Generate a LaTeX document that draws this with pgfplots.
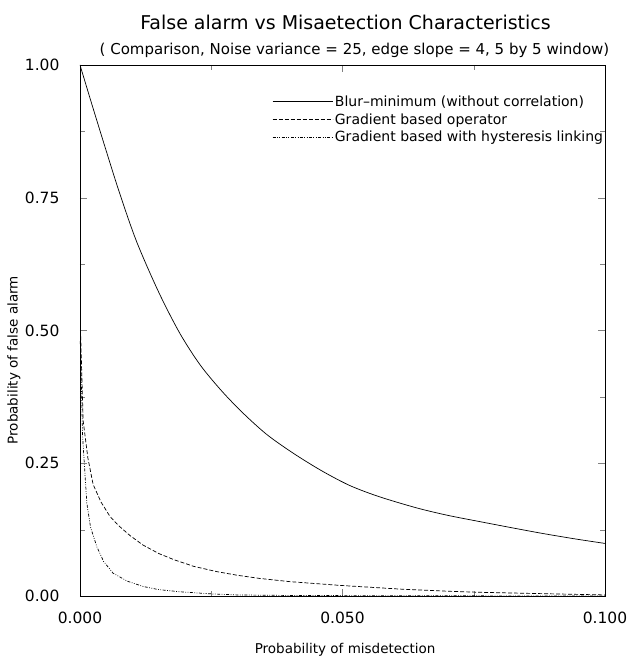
\documentclass[border=0pt]{standalone}
\usepackage{fontspec}
\setmainfont{DejaVu Sans}
\usepackage{pgfplots}
\pgfplotsset{compat=1.18}
\begin{document}
\begin{tikzpicture}
\useasboundingbox (-80pt,-61pt) rectangle (549pt,596pt);
\begin{axis}[
    at={(0,0)}, anchor=south west,
    width=525pt, height=531pt, scale only axis,
    xmin=0, xmax=0.1, ymin=0, ymax=1,
    xtick={0,0.05,0.1}, ytick={0,0.25,0.5,0.75,1},
    minor x tick num=1, minor y tick num=1,
    tick align=inside,
    major tick length=7pt, minor tick length=5pt,
    scaled ticks=false,
    xticklabel style={/pgf/number format/.cd,fixed,fixed zerofill,precision=3},
    yticklabel style={/pgf/number format/.cd,fixed,fixed zerofill,precision=2},
    /pgf/number format/assume math mode=true,
    ticklabel style={font=\fontsize{15.5}{17}\selectfont},
    xticklabel shift=12pt, yticklabel shift=17pt,
    xlabel={Probability of misdetection},
    ylabel={Probability of false alarm},
    label style={font=\fontsize{13.5}{15}\selectfont},
    xlabel style={at={(axis description cs:0.505,0)}, yshift=-54pt, anchor=center},
    ylabel style={at={(axis description cs:0,0.444)}, yshift=66pt, anchor=center},
    legend style={draw=none, fill=none, at={(0.36,0.95)}, anchor=north west,
      font=\fontsize{14}{16}\selectfont, row sep=1.5pt},
    legend cell align=left,
    legend image code/.code={\draw[#1] (0pt,0pt) -- (60pt,0pt);},
]
\addplot[black, line width=0.7pt, smooth] coordinates {
(0,1.0) (0.0022,0.928) (0.00444,0.856) (0.0075,0.760) (0.0108,0.667)
(0.015,0.572) (0.019,0.495) (0.0229,0.435) (0.027,0.386) (0.0311,0.344)
(0.0356,0.304) (0.0406,0.269) (0.046,0.236) (0.0514,0.208) (0.057,0.187)
(0.0641,0.166) (0.070,0.152) (0.0762,0.140) (0.082,0.129) (0.088,0.118)
(0.094,0.108) (0.1,0.099)};
\addlegendentry{Blur--minimum (without correlation)}
\addplot[black, line width=0.7pt, dash pattern=on 4pt off 2pt] coordinates {
(0.0001,0.50) (0.0006,0.33) (0.0015,0.26) (0.0025,0.21) (0.004,0.177)
(0.0057,0.150) (0.0073,0.133) (0.0095,0.114) (0.012,0.096) (0.015,0.080)
(0.018,0.068) (0.0216,0.056) (0.026,0.046) (0.030,0.039) (0.0343,0.033)
(0.040,0.027) (0.0495,0.020) (0.061,0.013) (0.070,0.009) (0.076,0.007)
(0.090,0.004) (0.1,0.002)};
\addlegendentry{Gradient based operator}
\addplot[black, line width=0.7pt, dash pattern=on 3pt off 1.5pt on 0.8pt off 1.5pt on 0.8pt off 1.5pt] coordinates {
(0.00005,0.48) (0.0005,0.30) (0.0013,0.175) (0.002,0.130) (0.0032,0.093)
(0.0045,0.065) (0.0063,0.043) (0.009,0.028) (0.012,0.018) (0.015,0.012)
(0.019,0.008) (0.025,0.004) (0.030,0.002) (0.040,0.001) (0.060,0.0005) (0.1,0.0)};
\addlegendentry{Gradient based with hysteresis linking}
\end{axis}
\node[font=\fontsize{19}{22}\selectfont] at (265.5pt,574pt) {False alarm vs Misaetection Characteristics};
\node[font=\fontsize{15}{17}\selectfont] at (274.5pt,546pt) {( Comparison, Noise variance = 25, edge slope = 4, 5 by 5 window)};
\end{tikzpicture}
\end{document}
